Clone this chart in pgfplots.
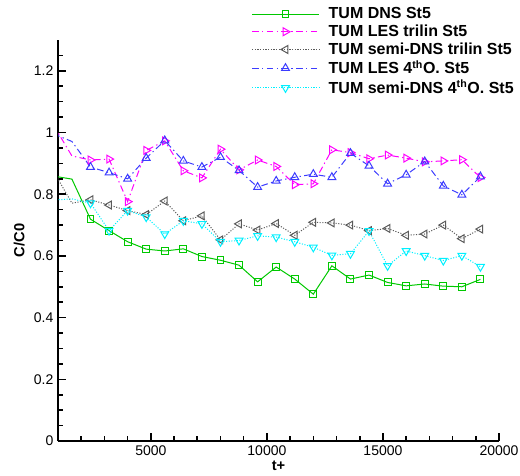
\documentclass[border=0pt]{standalone}
\usepackage{fontspec}
\setmainfont{Liberation Sans}
\usepackage{pgfplots}
\pgfplotsset{compat=1.18}
\definecolor{cgreen}{RGB}{0,200,0}
\definecolor{cmag}{RGB}{255,0,255}
\definecolor{cgray}{RGB}{90,90,90}
\definecolor{cblue}{RGB}{60,60,255}
\definecolor{ccyan}{RGB}{0,240,255}
\begin{document}
\begin{tikzpicture}
\begin{axis}[
  name=ax,
  scale only axis,
  width=330.75pt, height=300.75pt,
  xmin=1000, xmax=20000, ymin=0, ymax=1.3,
  axis x line*=bottom, axis y line*=left,
  axis line style={-, line width=1.4pt},
  tick align=inside,
  major tick length=6pt, minor tick length=3.5pt,
  every tick/.style={black, line width=1.2pt},
  xtick={5000,10000,15000,20000},
  minor xtick={1000,2000,...,19000},
  ytick={0,0.2,...,1.2},
  minor ytick={0.05,0.1,0.15,0.25,0.3,0.35,0.45,0.5,0.55,0.65,0.7,0.75,0.85,0.9,0.95,1.05,1.1,1.15,1.25},
  scaled x ticks=false,
  /pgf/number format/1000 sep={},
  /pgf/number format/assume math mode=true,
  tick label style={font=\fontsize{10.5pt}{12pt}\selectfont},
  xlabel={\bfseries t+}, ylabel={\bfseries C/C0},
  label style={font=\fontsize{11pt}{13pt}\selectfont},
  xlabel style={yshift=3pt},
  ylabel style={yshift=0pt},
  legend style={at={(1.04,1.088)}, anchor=north east, draw=none, fill=none,
    font=\fontsize{12pt}{13pt}\selectfont\bfseries, row sep=-0.9pt, column sep=5pt, inner sep=0pt},
  legend cell align=left,
  legend image code/.code={\draw[mark repeat=2,mark phase=2] plot coordinates {(0cm,0cm) (0.88cm,0cm) (1.76cm,0cm)};},
  every axis plot/.append style={line width=0.75pt, mark repeat=1, mark phase=2},
]
\addplot[cgreen, mark=square, mark size=2.6pt, mark options={solid}] coordinates {
(800,0.859) (1600,0.849) (2400,0.719) (3200,0.682) (4000,0.646) (4800,0.622) (5600,0.616)
(6400,0.623) (7200,0.598) (8000,0.586) (8800,0.570) (9600,0.516) (10400,0.564)
(11200,0.525) (12000,0.476) (12800,0.568) (13600,0.525) (14400,0.538) (15200,0.514)
(16000,0.503) (16800,0.509) (17600,0.502) (18400,0.500) (19200,0.524)};
\addlegendentry{TUM DNS St5}
\addplot[cmag, dash pattern=on 5pt off 2.5pt on 1pt off 2.5pt, mark=triangle, mark size=3.4pt, mark options={solid, rotate=-90}] coordinates {
(800,1.025) (1600,0.924) (2400,0.911) (3200,0.914) (4000,0.776) (4800,0.942) (5600,0.973)
(6400,0.876) (7200,0.853) (8000,0.946) (8800,0.879) (9600,0.911) (10400,0.890)
(11200,0.831) (12000,0.834) (12800,0.944) (13600,0.935) (14400,0.915) (15200,0.927)
(16000,0.917) (16800,0.905) (17600,0.908) (18400,0.912) (19200,0.854)};
\addlegendentry{TUM LES trilin St5}
\addplot[cgray, dash pattern=on 0.8pt off 1.2pt, mark=triangle, mark size=3.4pt, mark options={solid, rotate=90}] coordinates {
(800,0.875) (1600,0.771) (2400,0.782) (3200,0.765) (4000,0.747) (4800,0.734) (5600,0.778)
(6400,0.714) (7200,0.730) (8000,0.652) (8800,0.704) (9600,0.684) (10400,0.705)
(11200,0.667) (12000,0.709) (12800,0.707) (13600,0.700) (14400,0.682) (15200,0.689)
(16000,0.667) (16800,0.671) (17600,0.700) (18400,0.656) (19200,0.687)};
\addlegendentry{TUM semi-DNS trilin St5}
\addplot[cblue, dash pattern=on 5pt off 2.5pt on 1pt off 2.5pt, mark=triangle, mark size=3.4pt, mark options={solid}] coordinates {
(800,0.996) (1600,0.971) (2400,0.888) (3200,0.870) (4000,0.850) (4800,0.917) (5600,0.974)
(6400,0.908) (7200,0.888) (8000,0.920) (8800,0.877) (9600,0.823) (10400,0.843)
(11200,0.855) (12000,0.865) (12800,0.855) (13600,0.933) (14400,0.892) (15200,0.834)
(16000,0.863) (16800,0.906) (17600,0.827) (18400,0.798) (19200,0.857)};
\addlegendentry{TUM LES 4\textsuperscript{th}O. St5}
\addplot[ccyan, dash pattern=on 0.8pt off 1.2pt, mark=triangle, mark size=3.4pt, mark options={solid, rotate=180}] coordinates {
(800,0.781) (1600,0.785) (2400,0.771) (3200,0.682) (4000,0.747) (4800,0.726) (5600,0.671)
(6400,0.714) (7200,0.704) (8000,0.646) (8800,0.650) (9600,0.665) (10400,0.661)
(11200,0.646) (12000,0.628) (12800,0.602) (13600,0.607) (14400,0.681) (15200,0.568)
(16000,0.616) (16800,0.601) (17600,0.585) (18400,0.601) (19200,0.565)};
\addlegendentry{TUM semi-DNS 4\textsuperscript{th}O. St5}
\end{axis}
\pgfresetboundingbox
\path[use as bounding box] ([xshift=-43.5pt,yshift=-25.5pt]ax.south west) rectangle ([xshift=15.75pt,yshift=30pt]ax.north east);
\end{tikzpicture}
\end{document}
